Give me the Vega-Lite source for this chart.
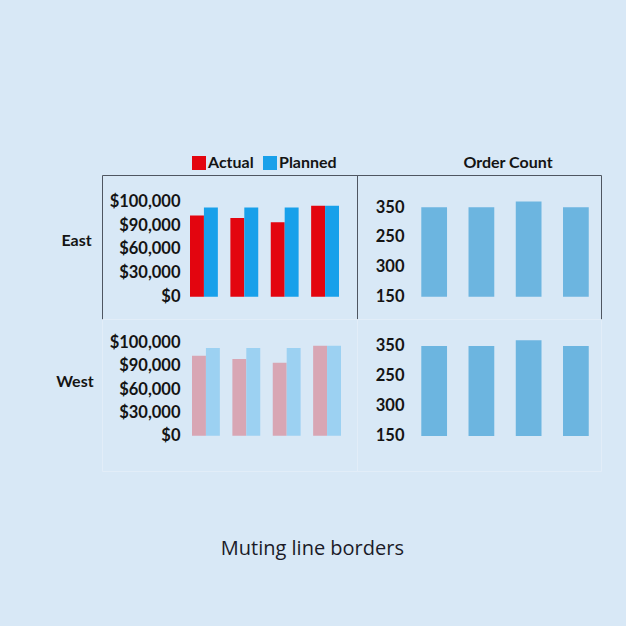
{
  "$schema": "https://vega.github.io/schema/vega-lite/v6.json",
  "background": "#d8e8f6",
  "padding": {"left": 55, "top": 154, "right": 26, "bottom": 68},
  "title": {
    "text": "Muting line borders",
    "orient": "bottom",
    "anchor": "middle",
    "font": "Open Sans",
    "fontSize": 20,
    "fontWeight": "normal",
    "color": "#1b1b28",
    "offset": 67,
    "dx": -16
  },
  "config": {
    "font": "Lato",
    "view": {"stroke": "#4f5661", "strokeWidth": 1},
    "axis": {
      "domain": false,
      "ticks": false,
      "grid": false,
      "labelFont": "Lato",
      "labelFontSize": 16.5,
      "labelFontWeight": "bold",
      "labelColor": "#141414",
      "labelPadding": 4,
      "titleFont": "Lato",
      "titleFontSize": 16,
      "titleFontWeight": "bold",
      "titleColor": "#141414"
    }
  },
  "datasets": {
    "sales": [
      {"region": "East", "quarter": "Q1", "type": "Actual", "value": 102000},
      {"region": "East", "quarter": "Q1", "type": "Planned", "value": 112000},
      {"region": "East", "quarter": "Q2", "type": "Actual", "value": 99000},
      {"region": "East", "quarter": "Q2", "type": "Planned", "value": 112000},
      {"region": "East", "quarter": "Q3", "type": "Actual", "value": 93500},
      {"region": "East", "quarter": "Q3", "type": "Planned", "value": 112000},
      {"region": "East", "quarter": "Q4", "type": "Actual", "value": 114500},
      {"region": "East", "quarter": "Q4", "type": "Planned", "value": 114500},
      {"region": "West", "quarter": "Q1", "type": "Actual", "value": 102500},
      {"region": "West", "quarter": "Q1", "type": "Planned", "value": 112700},
      {"region": "West", "quarter": "Q2", "type": "Actual", "value": 98600},
      {"region": "West", "quarter": "Q2", "type": "Planned", "value": 112700},
      {"region": "West", "quarter": "Q3", "type": "Actual", "value": 93500},
      {"region": "West", "quarter": "Q3", "type": "Planned", "value": 112700},
      {"region": "West", "quarter": "Q4", "type": "Actual", "value": 115300},
      {"region": "West", "quarter": "Q4", "type": "Planned", "value": 115300}
    ],
    "orders": [
      {"region": "East", "quarter": "Q1", "count": 350},
      {"region": "East", "quarter": "Q2", "count": 350},
      {"region": "East", "quarter": "Q3", "count": 363},
      {"region": "East", "quarter": "Q4", "count": 350},
      {"region": "West", "quarter": "Q1", "count": 350},
      {"region": "West", "quarter": "Q2", "count": 350},
      {"region": "West", "quarter": "Q3", "count": 363},
      {"region": "West", "quarter": "Q4", "count": 350}
    ]
  },
  "columns": 2,
  "spacing": 0,
  "bounds": "flush",
  "resolve": {"scale": {"x": "independent", "y": "independent", "xOffset": "independent", "color": "independent"}},
  "concat": [
    {
      "width": 255,
      "height": 144,
      "data": {"name": "sales"},
      "transform": [{"filter": "datum.region === 'East'"}],
      "mark": {"type": "bar"},
      "encoding": {
        "x": {
          "field": "quarter",
          "type": "nominal",
          "axis": null,
          "scale": {"range": [88, 237], "paddingInner": 0.31, "paddingOuter": 0}
        },
        "xOffset": {"field": "type", "type": "nominal", "scale": {"paddingInner": 0, "paddingOuter": 0}},
        "y": {
          "field": "value",
          "type": "quantitative",
          "scale": {"domain": [-28000, 153000], "nice": false, "zero": false},
          "axis": {
            "values": [0, 30000, 60000, 90000, 120000],
            "labelExpr": "datum.value == 0 ? '$0' : datum.value == 30000 ? '$30,000' : datum.value == 60000 ? '$60,000' : datum.value == 90000 ? '$90,000' : '$100,000'",
            "title": "East",
            "titleAngle": 0,
            "titleAlign": "right",
            "titleBaseline": "middle",
            "titleY": 65,
            "titlePadding": 18,
            "offset": -82
          }
        },
        "y2": {"datum": 0},
        "color": {
          "field": "type",
          "type": "nominal",
          "scale": {"domain": ["Actual", "Planned"], "range": ["#e3050f", "#18a0ea"]},
          "legend": {
            "title": null,
            "orient": "none",
            "legendX": 89,
            "legendY": -20,
            "direction": "horizontal",
            "symbolType": "square",
            "symbolSize": 196,
            "symbolStrokeWidth": 0,
            "labelFont": "Lato",
            "labelFontSize": 16,
            "labelFontWeight": "bold",
            "labelColor": "#141414",
            "labelOffset": 1,
            "columnPadding": 8
          }
        }
      }
    },
    {
      "width": 244,
      "height": 144,
      "title": {
        "text": "Order Count",
        "font": "Lato",
        "fontSize": 16,
        "fontWeight": "bold",
        "color": "#141414",
        "anchor": "middle",
        "dx": 29,
        "offset": 4
      },
      "data": {"name": "orders"},
      "transform": [{"filter": "datum.region === 'East'"}],
      "mark": {"type": "bar", "color": "#6cb5e0"},
      "encoding": {
        "x": {
          "field": "quarter",
          "type": "nominal",
          "axis": null,
          "scale": {"paddingInner": 0.455, "paddingOuter": 0.81, "align": 0.84}
        },
        "y": {
          "field": "count",
          "type": "quantitative",
          "scale": {"domain": [100, 422], "nice": false, "zero": false},
          "axis": {
            "values": [150, 217, 284, 350],
            "labelExpr": "datum.value == 150 ? '150' : datum.value == 217 ? '300' : datum.value == 284 ? '250' : '350'",
            "title": null,
            "offset": -51
          }
        },
        "y2": {"datum": 150}
      }
    },
    {
      "width": 255,
      "height": 152,
      "view": {"stroke": "#e2edf8"},
      "data": {"name": "sales"},
      "transform": [{"filter": "datum.region === 'West'"}],
      "mark": {"type": "bar"},
      "encoding": {
        "x": {
          "field": "quarter",
          "type": "nominal",
          "axis": null,
          "scale": {"range": [90, 239], "paddingInner": 0.31, "paddingOuter": 0}
        },
        "xOffset": {"field": "type", "type": "nominal", "scale": {"paddingInner": 0, "paddingOuter": 0}},
        "y": {
          "field": "value",
          "type": "quantitative",
          "scale": {"domain": [-45000, 149700], "nice": false, "zero": false},
          "axis": {
            "values": [0, 30000, 60000, 90000, 120000],
            "labelExpr": "datum.value == 0 ? '$0' : datum.value == 30000 ? '$30,000' : datum.value == 60000 ? '$60,000' : datum.value == 90000 ? '$90,000' : '$100,000'",
            "title": "West",
            "titleAngle": 0,
            "titleAlign": "right",
            "titleBaseline": "middle",
            "titleY": 62,
            "titlePadding": 16,
            "offset": -82
          }
        },
        "y2": {"datum": 0},
        "color": {
          "field": "type",
          "type": "nominal",
          "scale": {"domain": ["Actual", "Planned"], "range": ["#d8a6b4", "#9cd1f2"]},
          "legend": null
        }
      }
    },
    {
      "width": 244,
      "height": 152,
      "view": {"stroke": "#e2edf8"},
      "data": {"name": "orders"},
      "transform": [{"filter": "datum.region === 'West'"}],
      "mark": {"type": "bar", "color": "#6cb5e0"},
      "encoding": {
        "x": {
          "field": "quarter",
          "type": "nominal",
          "axis": null,
          "scale": {"paddingInner": 0.455, "paddingOuter": 0.81, "align": 0.84}
        },
        "y": {
          "field": "count",
          "type": "quantitative",
          "scale": {"domain": [72, 410], "nice": false, "zero": false},
          "axis": {
            "values": [150, 217, 284, 350],
            "labelExpr": "datum.value == 150 ? '150' : datum.value == 217 ? '300' : datum.value == 284 ? '250' : '350'",
            "title": null,
            "offset": -51
          }
        },
        "y2": {"datum": 150}
      }
    }
  ]
}
